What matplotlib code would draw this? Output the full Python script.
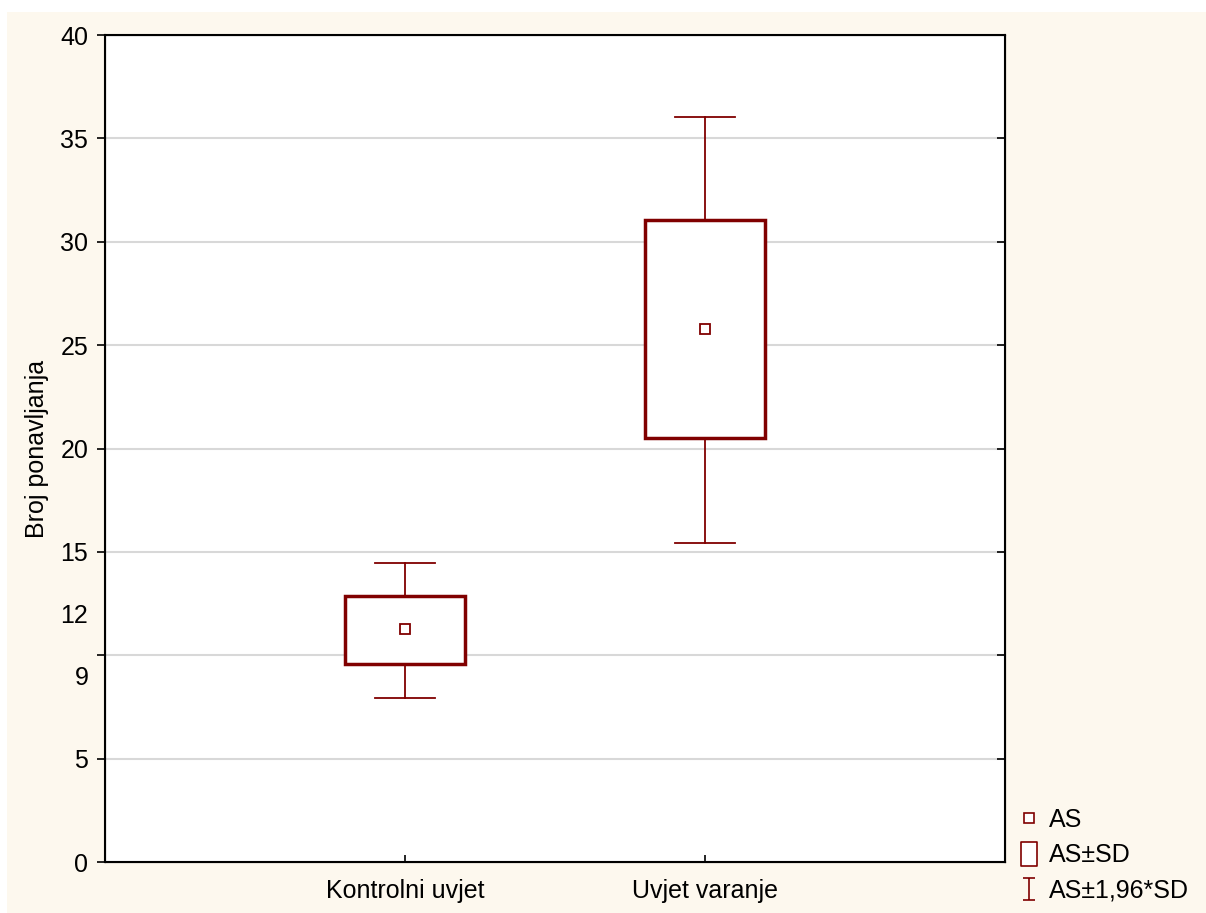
import numpy as np
import matplotlib.pyplot as plt
import matplotlib as mpl
from matplotlib.patches import Rectangle
from matplotlib.lines import Line2D
from matplotlib.path import Path

categories = ["Kontrolni uvjet", "Uvjet varanje"]
means = [11.25, 25.8]
sd_low = [9.6, 20.5]
sd_high = [12.85, 31.05]
ci_low = [7.95, 15.45]
ci_high = [14.45, 36.05]

major_ticks = [0, 5, 10, 15, 20, 25, 30, 35, 40]
major_labels = ["0", "5", "", "15", "20", "25", "30", "35", "40"]
minor_ticks = [9, 12]
minor_labels = ["9", "12"]

mpl.rcParams["font.family"] = ["Liberation Sans", "DejaVu Sans"]
mpl.rcParams["font.size"] = 18.0

red = "#800000"
cream = "#fdf8ee"

fig = plt.figure(figsize=(12.06, 9.13), dpi=100, facecolor="white")
fig.patches.append(Rectangle((7 / 1206, 0), 1, 1 - 12 / 913, transform=fig.transFigure,
                             facecolor=cream, edgecolor="none", zorder=-10))
ax = fig.add_axes([105 / 1206, 1 - 862 / 913, 900 / 1206, 827 / 913])
ax.set_facecolor("white")

x = np.arange(len(categories))
box_w = 0.4
cap_w = 0.2
for xi, m, lo, hi, clo, chi in zip(x, means, sd_low, sd_high, ci_low, ci_high):
    ax.plot([xi, xi], [hi, chi], color=red, lw=1.3, zorder=3)
    ax.plot([xi, xi], [clo, lo], color=red, lw=1.3, zorder=3)
    ax.plot([xi - cap_w / 2, xi + cap_w / 2], [chi, chi], color=red, lw=1.3, zorder=3)
    ax.plot([xi - cap_w / 2, xi + cap_w / 2], [clo, clo], color=red, lw=1.3, zorder=3)
    ax.add_patch(Rectangle((xi - box_w / 2, lo), box_w, hi - lo, facecolor="white",
                           edgecolor=red, lw=2.5, zorder=4))
ax.plot(x, means, ls="none", marker="s", ms=7, mfc="white", mec=red, mew=1.3, zorder=5)

ax.set_xlim(-1, 2)
ax.set_ylim(0, 40)
ax.set_xticks(x)
ax.set_xticklabels(categories)
ax.set_yticks(major_ticks)
ax.set_yticklabels(major_labels)
ax.set_yticks(minor_ticks, minor=True)
ax.set_yticklabels(minor_labels, minor=True)
ax.tick_params(axis="y", which="minor", length=0, pad=12, labelsize=18)
ax.tick_params(axis="y", which="major", direction="out", length=6, width=1.2,
               labelsize=18, pad=6)
ax.tick_params(axis="x", direction="in", length=5, width=1.2, labelsize=18, pad=12)
ax.grid(axis="y", which="major", color="#d8d8d8", lw=1.5)
ax.set_axisbelow(True)
for s in ax.spines.values():
    s.set_linewidth(1.5)
    s.set_color("black")

# right side ticks point inward
ax2 = ax.twinx()
ax2.set_ylim(0, 40)
ax2.set_yticks(major_ticks)
ax2.set_yticklabels([])
ax2.tick_params(axis="y", direction="in", length=6, width=1.2)

ax.set_ylabel("Broj ponavljanja", fontsize=18, labelpad=8)

ibar = Path([(-0.5, -1), (0.5, -1), (0, -1), (0, 1), (-0.5, 1), (0.5, 1)],
            [Path.MOVETO, Path.LINETO, Path.MOVETO, Path.LINETO, Path.MOVETO, Path.LINETO])
tallbox = Path([(-0.32, -0.5), (0.32, -0.5), (0.32, 0.5), (-0.32, 0.5), (-0.32, -0.5)],
               [Path.MOVETO, Path.LINETO, Path.LINETO, Path.LINETO, Path.CLOSEPOLY])
handles = [
    Line2D([], [], ls="none", marker="s", ms=7, mfc="white", mec=red, mew=1.2),
    Line2D([], [], ls="none", marker=tallbox, ms=17, mfc="white", mec=red, mew=1.2),
    Line2D([], [], ls="none", marker=ibar, ms=16, mec=red, mew=1.2),
]
fig.legend(handles, ["AS", "AS±SD", "AS±1,96*SD"], loc="lower left",
           bbox_to_anchor=(996 / 1206, -12 / 913), frameon=False, fontsize=18,
           handlelength=0.8, handletextpad=0.4, labelspacing=0.45)

fig.savefig("out.png", dpi=100, facecolor=fig.get_facecolor())
